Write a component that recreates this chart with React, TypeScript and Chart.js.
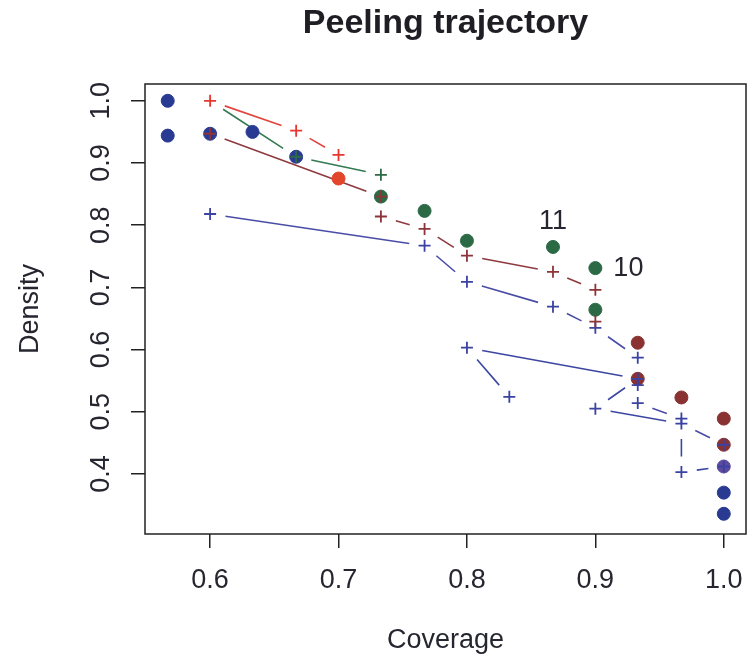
import React, { useEffect, useRef } from 'react';
import { Chart, registerables } from 'chart.js';

Chart.register(...registerables);

// ---------- Axis ticks ----------
const xTicks = [0.6, 0.7, 0.8, 0.9, 1.0];
const xTickLabels = ['0.6', '0.7', '0.8', '0.9', '1.0'];
const yTicks = [0.4, 0.5, 0.6, 0.7, 0.8, 0.9, 1.0];
const yTickLabels = ['0.4', '0.5', '0.6', '0.7', '0.8', '0.9', '1.0'];
const xRange = [0.5493, 1.0173];
const yRange = [0.3035, 1.027];

const titleText = 'Peeling trajectory';
const xTitle = 'Coverage';
const yTitle = 'Density';

// ---------- Filled dots ----------
const blueDotX = [0.567, 0.567, 0.6, 0.633, 0.667, 1.0, 1.0];
const blueDotY = [1.0, 0.944, 0.947, 0.95, 0.91, 0.37, 0.336];
const greenDotX = [0.733, 0.767, 0.8, 0.867, 0.9, 0.9];
const greenDotY = [0.846, 0.823, 0.775, 0.765, 0.731, 0.664];
const redDotX = [0.7];
const redDotY = [0.875];
const maroonDotX = [0.933, 0.933, 0.967, 1.0, 1.0];
const maroonDotY = [0.611, 0.553, 0.523, 0.489, 0.447];
const purpleDotX = [1.0];
const purpleDotY = [0.412];

// ---------- Plus markers ----------
const redPlusX = [0.6, 0.667, 0.7];
const redPlusY = [1.0, 0.952, 0.913];
const greenPlusX = [0.667, 0.733];
const greenPlusY = [0.91, 0.881];
const maroonPlusX = [0.6, 0.733, 0.733, 0.767, 0.8, 0.867, 0.9, 0.9];
const maroonPlusY = [0.947, 0.846, 0.814, 0.794, 0.751, 0.725, 0.696, 0.645];
const bluePlusX = [0.6, 0.767, 0.8, 0.867, 0.9, 0.933, 0.933, 0.933, 0.933, 0.8, 0.833, 0.9, 0.967, 0.967, 0.967, 1.0, 1.0];
const bluePlusY = [0.818, 0.767, 0.709, 0.669, 0.635, 0.587, 0.553, 0.543, 0.514, 0.603, 0.524, 0.505, 0.489, 0.481, 0.403, 0.447, 0.412];

// ---------- Connecting paths ----------
const redPathX = [0.6, 0.667, 0.7];
const redPathY = [1.0, 0.952, 0.913];
const greenPathX = [0.6, 0.667, 0.733];
const greenPathY = [1.0, 0.91, 0.881];
const maroonPathX = [0.6, 0.733, 0.733, 0.767, 0.8, 0.867, 0.9, 0.9];
const maroonPathY = [0.947, 0.846, 0.814, 0.794, 0.751, 0.725, 0.696, 0.645];
const bluePathAX = [0.6, 0.767, 0.8, 0.867, 0.9, 0.933, 0.933, 0.933, 0.967, 0.967, 1.0, 1.0];
const bluePathAY = [0.818, 0.767, 0.709, 0.669, 0.635, 0.587, 0.543, 0.514, 0.489, 0.481, 0.447, 0.412];
const bluePathBX = [0.833, 0.8, 0.933, 0.9, 0.967, 0.967, 1.0];
const bluePathBY = [0.524, 0.603, 0.553, 0.505, 0.481, 0.403, 0.412];

// ---------- Point annotations ----------
const labelTexts = ['11', '10'];
const labelX = [0.867, 0.9];
const labelY = [0.765, 0.731];
const labelPos = ['above', 'right'];

const FONT = '"Liberation Sans", Arial, Helvetica, sans-serif';
const TEXT = '#262630';
const GAP = 15.5;

const zip = (xs: number[], ys: number[]) => xs.map((x, i) => ({ x, y: ys[i] }));

const dots = (label: string, xs: number[], ys: number[], color: string) => ({
  label,
  data: zip(xs, ys),
  pointStyle: 'circle',
  pointRadius: 6.5,
  pointBackgroundColor: color,
  pointBorderColor: color,
  pointBorderWidth: 1,
  order: 3,
});

const plus = (label: string, xs: number[], ys: number[], color: string) => ({
  label,
  data: zip(xs, ys),
  pointStyle: 'cross',
  pointRadius: 6,
  pointBorderColor: color,
  pointBackgroundColor: color,
  pointBorderWidth: 1.8,
  order: 1,
});

const path = (label: string, xs: number[], ys: number[], color: string) => ({
  label,
  data: zip(xs, ys),
  pointRadius: 0,
  showLine: false,
  gapLine: true,
  borderColor: color,
  borderWidth: 1.6,
  order: 5,
});

const overlay = {
  id: 'overlay',
  beforeDatasetsDraw(chart: any) {
    const ctx = chart.ctx;
    const ca = chart.chartArea;
    ctx.save();
    ctx.beginPath();
    ctx.rect(ca.left, ca.top, ca.right - ca.left, ca.bottom - ca.top);
    ctx.clip();
    chart.data.datasets.forEach((ds: any, i: number) => {
      if (!ds.gapLine) return;
      const pts = chart.getDatasetMeta(i).data;
      ctx.strokeStyle = ds.borderColor;
      ctx.lineWidth = ds.borderWidth;
      ctx.beginPath();
      for (let k = 0; k < pts.length - 1; k++) {
        const a = pts[k];
        const b = pts[k + 1];
        const dx = b.x - a.x;
        const dy = b.y - a.y;
        const L = Math.hypot(dx, dy);
        if (L <= 2 * GAP) continue;
        const ux = dx / L;
        const uy = dy / L;
        ctx.moveTo(a.x + ux * GAP, a.y + uy * GAP);
        ctx.lineTo(b.x - ux * GAP, b.y - uy * GAP);
      }
      ctx.stroke();
    });
    ctx.restore();
  },
  afterDraw(chart: any) {
    const ctx = chart.ctx;
    const ca = chart.chartArea;
    const xs = chart.scales.x;
    const ys = chart.scales.y;
    ctx.save();
    // box
    ctx.strokeStyle = '#222';
    ctx.lineWidth = 1.5;
    ctx.strokeRect(ca.left, ca.top, ca.right - ca.left, ca.bottom - ca.top);

    ctx.fillStyle = TEXT;
    ctx.textBaseline = 'middle';
    ctx.textAlign = 'center';
    // x tick labels
    ctx.font = `27px ${FONT}`;
    xTicks.forEach((v, i) => {
      ctx.fillText(xTickLabels[i], xs.getPixelForValue(v), ca.bottom + 47);
    });
    // y tick labels (rotated)
    yTicks.forEach((v, i) => {
      ctx.save();
      ctx.translate(102, ys.getPixelForValue(v));
      ctx.rotate(-Math.PI / 2);
      ctx.fillText(yTickLabels[i], 0, 0);
      ctx.restore();
    });
    // axis titles
    ctx.fillText(xTitle, (ca.left + ca.right) / 2, 641);
    ctx.save();
    ctx.translate(31, (ca.top + ca.bottom) / 2);
    ctx.rotate(-Math.PI / 2);
    ctx.fillText(yTitle, 0, 0);
    ctx.restore();
    // main title
    ctx.font = `bold 34px ${FONT}`;
    ctx.fillStyle = '#1e1e24';
    ctx.fillText(titleText, (ca.left + ca.right) / 2, 24);
    // annotations
    ctx.font = `27px ${FONT}`;
    ctx.fillStyle = TEXT;
    labelTexts.forEach((t, i) => {
      const px = xs.getPixelForValue(labelX[i]);
      const py = ys.getPixelForValue(labelY[i]);
      if (labelPos[i] === 'above') {
        ctx.textAlign = 'center';
        ctx.fillText(t, px, py - 25);
      } else {
        ctx.textAlign = 'left';
        ctx.fillText(t, px + 18, py);
      }
    });
    ctx.restore();
  },
};

export default function App() {
  const ref = useRef<HTMLCanvasElement | null>(null);

  useEffect(() => {
    document.body.style.margin = '0';
    const canvas = ref.current;
    if (!canvas) return;
    const chart = new Chart(canvas, {
      type: 'scatter',
      data: {
        datasets: [
          path('redPath', redPathX, redPathY, '#e0463e'),
          path('greenPath', greenPathX, greenPathY, '#327a52'),
          path('maroonPath', maroonPathX, maroonPathY, '#8e3a3e'),
          path('bluePathA', bluePathAX, bluePathAY, '#4a4da6'),
          path('bluePathB', bluePathBX, bluePathBY, '#3c47a2'),
          dots('blueDots', blueDotX, blueDotY, '#283a92'),
          dots('greenDots', greenDotX, greenDotY, '#2c6a46'),
          dots('redDots', redDotX, redDotY, '#e2472c'),
          dots('maroonDots', maroonDotX, maroonDotY, '#8a3232'),
          dots('purpleDots', purpleDotX, purpleDotY, '#5d4a9e'),
          plus('redPlus', redPlusX, redPlusY, '#e8362e'),
          plus('greenPlus', greenPlusX, greenPlusY, '#2e6a44'),
          plus('maroonPlus', maroonPlusX, maroonPlusY, '#8c3438'),
          plus('bluePlus', bluePlusX, bluePlusY, '#3a42a2'),
        ] as any,
      },
      options: {
        responsive: false,
        animation: false,
        devicePixelRatio: 1,
        events: [],
        layout: { autoPadding: false, padding: { top: 84, left: 0, right: 1, bottom: 0 } },
        plugins: {
          legend: { display: false },
          tooltip: { enabled: false },
          title: { display: false },
        },
        scales: {
          x: {
            type: 'linear',
            min: xRange[0],
            max: xRange[1],
            afterBuildTicks: (s: any) => {
              s.ticks = xTicks.map((v) => ({ value: v }));
            },
            afterFit: (s: any) => {
              s.height = 129;
            },
            ticks: { display: false },
            border: { display: false },
            grid: {
              display: true,
              drawOnChartArea: false,
              drawTicks: true,
              tickLength: 14,
              color: '#222',
              lineWidth: 1.5,
            },
          },
          y: {
            type: 'linear',
            min: yRange[0],
            max: yRange[1],
            afterBuildTicks: (s: any) => {
              s.ticks = yTicks.map((v) => ({ value: v }));
            },
            afterFit: (s: any) => {
              s.width = 145;
            },
            ticks: { display: false },
            border: { display: false },
            grid: {
              display: true,
              drawOnChartArea: false,
              drawTicks: true,
              tickLength: 14,
              color: '#222',
              lineWidth: 1.5,
            },
          },
        },
      } as any,
      plugins: [overlay],
    });
    return () => chart.destroy();
  }, []);

  return (
    <div style={{ width: 747, height: 663, background: '#fff' }}>
      <canvas ref={ref} width={747} height={663} style={{ display: 'block' }} />
    </div>
  );
}
